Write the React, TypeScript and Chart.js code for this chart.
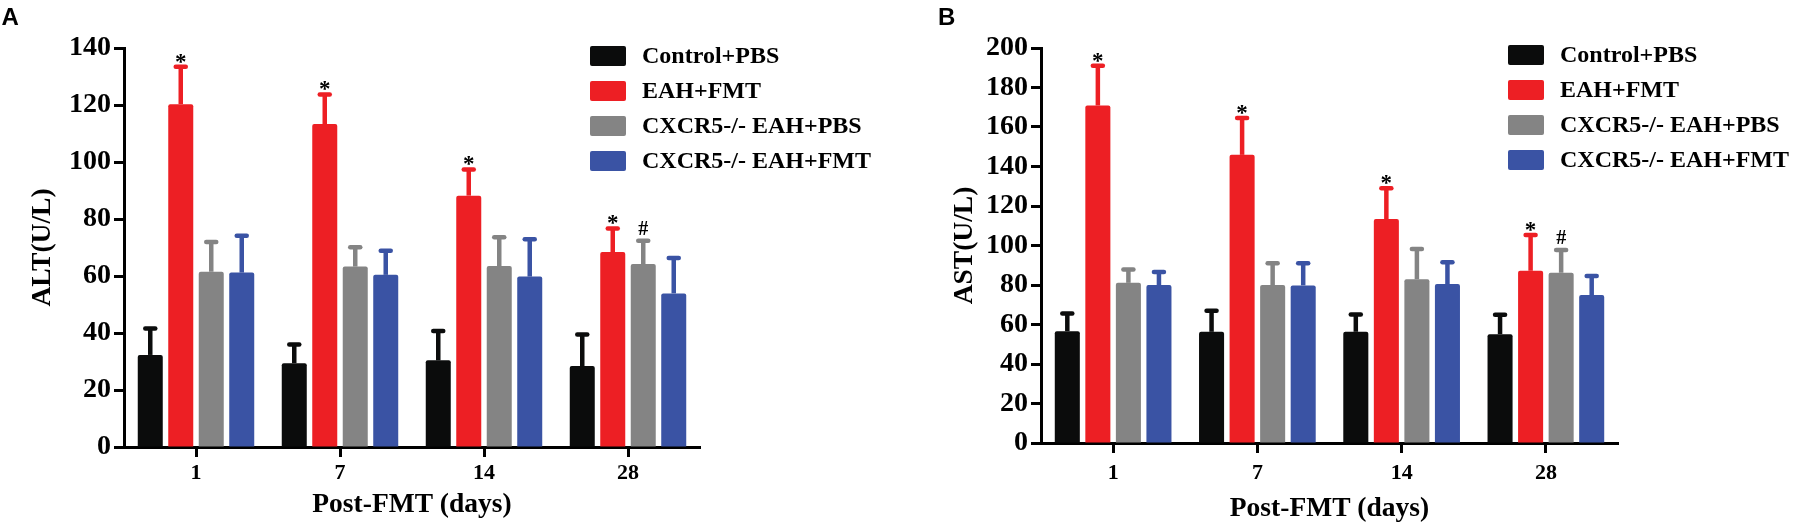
import React, { useEffect, useRef } from "react";
import { Chart, ChartConfiguration, Plugin, registerables } from "chart.js";

Chart.register(...registerables);

const SERIF = "'Liberation Serif', 'Times New Roman', serif";
const SANS = "'Liberation Sans', Arial, sans-serif";

const days = ["1", "7", "14", "28"];
const groupNames = ["Control+PBS", "EAH+FMT", "CXCR5-/- EAH+PBS", "CXCR5-/- EAH+FMT"];
const groupColors = ["#0b0c0c", "#ed1f24", "#848484", "#3a53a4"];

// ALT (U/L): means, then upper SD
const altControl = [32.3, 29.4, 30.4, 28.4];
const altEahFmt = [120.3, 113.3, 88.2, 68.4];
const altKoPbs = [61.5, 63.3, 63.5, 64.2];
const altKoFmt = [61.2, 60.4, 59.8, 53.9];
const altControlSd = [9.3, 6.6, 10.3, 11.1];
const altEahFmtSd = [13.1, 10.4, 9.2, 8.3];
const altKoPbsSd = [10.4, 6.8, 10.1, 8.2];
const altKoFmtSd = [12.9, 8.5, 13.1, 12.4];

// AST (U/L)
const astControl = [56.6, 56.3, 56.3, 55.1];
const astEahFmt = [170.9, 145.9, 113.4, 87.2];
const astKoPbs = [81.1, 80.0, 82.9, 86.2];
const astKoFmt = [80.0, 79.8, 80.5, 74.9];
const astControlSd = [9.0, 10.6, 8.8, 9.8];
const astEahFmtSd = [20.1, 18.6, 15.6, 18.1];
const astKoPbsSd = [6.8, 11.0, 15.3, 11.5];
const astKoFmtSd = [6.6, 11.2, 11.0, 9.6];

// significance marks drawn over the error bars
const noMarks = ["", "", "", ""];
const starMarks = ["*", "*", "*", "*"];
const hashMarks = ["", "", "", "#"];
const groupMarks = [noMarks, starMarks, hashMarks, noMarks];

type Spec = {
  left: number;
  letter: string;
  letterX: number;
  yTitle: string;
  yMax: number;
  series: number[][];
  errors: number[][];
  axisLeft: number;
  axisRight: number;
  axisTop: number;
  axisBottom: number;
  yTitlePad: number;
  xTickPad: number;
  xTitlePad: number;
  legendX: number;
  legendY: number;
};

const W = 899;
const H = 527;

const panelA: Spec = {
  left: 0,
  letter: "A",
  letterX: 1.5,
  yTitle: "ALT(U/L)",
  yMax: 140,
  series: [altControl, altEahFmt, altKoPbs, altKoFmt],
  errors: [altControlSd, altEahFmtSd, altKoPbsSd, altKoFmtSd],
  axisLeft: 124,
  axisRight: 700,
  axisTop: 48,
  axisBottom: 447,
  yTitlePad: 26.5,
  xTickPad: 3,
  xTitlePad: 5.5,
  legendX: 590,
  legendY: 46,
};

const panelB: Spec = {
  left: 899,
  letter: "B",
  letterX: 39,
  yTitle: "AST(U/L)",
  yMax: 200,
  series: [astControl, astEahFmt, astKoPbs, astKoFmt],
  errors: [astControlSd, astEahFmtSd, astKoPbsSd, astKoFmtSd],
  axisLeft: 142,
  axisRight: 719,
  axisTop: 48,
  axisBottom: 443,
  yTitlePad: 49,
  xTickPad: 7,
  xTitlePad: 1.5,
  legendX: 609,
  legendY: 45,
};

const errorBars: Plugin<"bar"> = {
  id: "errorBars",
  afterDatasetsDraw(chart) {
    const { ctx } = chart;
    const y = chart.scales.y;
    chart.data.datasets.forEach((ds: any, i) => {
      const meta = chart.getDatasetMeta(i);
      meta.data.forEach((bar: any, j) => {
        const top = y.getPixelForValue(ds.data[j] + ds.errors[j]);
        ctx.save();
        ctx.strokeStyle = ds.backgroundColor;
        ctx.lineWidth = 4.5;
        ctx.beginPath();
        ctx.moveTo(bar.x, bar.y);
        ctx.lineTo(bar.x, top);
        ctx.stroke();
        ctx.lineCap = "round";
        ctx.beginPath();
        ctx.moveTo(bar.x - 5, top);
        ctx.lineTo(bar.x + 5, top);
        ctx.stroke();
        const mark = ds.marks[j];
        if (mark) {
          ctx.fillStyle = "#000";
          ctx.textAlign = "center";
          ctx.textBaseline = "alphabetic";
          if (mark === "*") {
            ctx.font = `bold 23px ${SERIF}`;
            ctx.fillText(mark, bar.x, top + 2);
          } else {
            ctx.font = `bold 20px ${SERIF}`;
            ctx.fillText(mark, bar.x, top - 6);
          }
        }
        ctx.restore();
      });
    });
  },
};

const makeLegend = (s: Spec): Plugin<"bar"> => ({
  id: "boxLegend",
  afterDraw(chart) {
    const { ctx } = chart;
    ctx.save();
    chart.data.datasets.forEach((ds: any, i) => {
      const y = s.legendY + i * 35;
      ctx.fillStyle = ds.backgroundColor;
      ctx.beginPath();
      ctx.roundRect(s.legendX, y, 36, 20, 2);
      ctx.fill();
      ctx.fillStyle = "#000";
      ctx.font = `bold 24px ${SERIF}`;
      ctx.textAlign = "left";
      ctx.textBaseline = "middle";
      ctx.fillText(ds.label, s.legendX + 52, y + 11);
    });
    ctx.font = `bold 24px ${SANS}`;
    ctx.textBaseline = "alphabetic";
    ctx.fillText(s.letter, s.letterX, 25);
    ctx.restore();
  },
});

const buildConfig = (s: Spec): ChartConfiguration<"bar"> => ({
  type: "bar",
  data: {
    labels: days,
    datasets: s.series.map((values, i) => ({
      label: groupNames[i],
      data: values,
      backgroundColor: groupColors[i],
      borderWidth: 0,
      borderRadius: 2,
      categoryPercentage: 0.847,
      barPercentage: 0.82,
      errors: s.errors[i],
      marks: groupMarks[i],
    })) as any,
  },
  options: {
    responsive: false,
    animation: false,
    layout: {
      padding: { left: 0, top: s.axisTop, right: W - s.axisRight, bottom: 0 },
    },
    plugins: {
      legend: { display: false },
      tooltip: { enabled: false },
    },
    scales: {
      x: {
        offset: true,
        grid: {
          display: true,
          offset: false,
          drawOnChartArea: false,
          drawTicks: true,
          tickLength: 10,
          tickWidth: 3,
          tickColor: "#000",
          color: "#000",
        },
        border: { display: true, color: "#000", width: 3 },
        ticks: {
          color: "#000",
          padding: s.xTickPad,
          font: { family: SERIF, size: 22, weight: "bold" },
        },
        title: {
          display: true,
          text: "Post-FMT (days)",
          color: "#000",
          font: { family: SERIF, size: 27.5, weight: "bold" },
          padding: { top: 0, bottom: s.xTitlePad },
        },
        afterFit: (scale) => {
          scale.height = H - s.axisBottom;
        },
      },
      y: {
        min: 0,
        max: s.yMax,
        grid: {
          display: true,
          drawOnChartArea: false,
          drawTicks: true,
          tickLength: 10,
          tickWidth: 3,
          tickColor: "#000",
          color: "#000",
        },
        border: { display: true, color: "#000", width: 3 },
        ticks: {
          stepSize: 20,
          color: "#000",
          padding: 3,
          font: { family: SERIF, size: 28, weight: "bold" },
        },
        title: {
          display: true,
          text: s.yTitle,
          color: "#000",
          font: { family: SERIF, size: 27.5, weight: "bold" },
          padding: { top: s.yTitlePad, bottom: 0 },
        },
        afterFit: (scale) => {
          scale.width = s.axisLeft;
        },
      },
    },
  },
  plugins: [errorBars, makeLegend(s)],
});

const Panel = ({ spec }: { spec: Spec }) => {
  const canvasRef = useRef<HTMLCanvasElement>(null);

  useEffect(() => {
    if (!canvasRef.current) return;
    const chart = new Chart(canvasRef.current, buildConfig(spec));
    return () => {
      chart.destroy();
    };
  }, []);

  return (
    <canvas
      ref={canvasRef}
      width={W}
      height={H}
      style={{ position: "absolute", left: spec.left, top: 0, width: W, height: H }}
    />
  );
};

const App = () => (
  <div
    style={{
      position: "absolute",
      left: 0,
      top: 0,
      width: 1798,
      height: 527,
      background: "#fff",
      overflow: "hidden",
    }}
  >
    <Panel spec={panelA} />
    <Panel spec={panelB} />
  </div>
);

export default App;
